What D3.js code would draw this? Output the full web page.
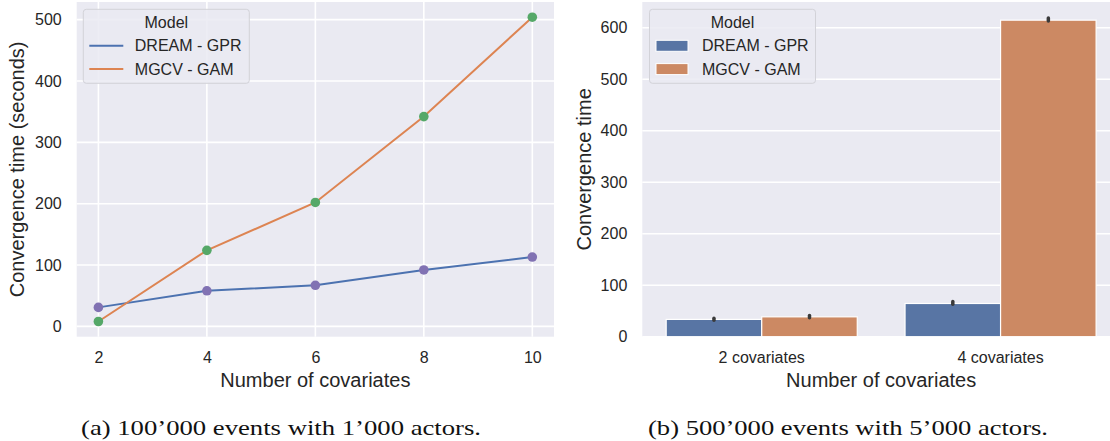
<!DOCTYPE html>
<html>
<head>
<meta charset="utf-8">
<script src="https://cdn.jsdelivr.net/npm/d3@7"></script>
<style>
    body { margin: 0; background: #ffffff; }
    svg { display: block; font-family: "Liberation Sans", Arial, sans-serif; }
    .tick text { fill: #262626; font-size: 16px; }
    .axis-label { fill: #262626; font-size: 20px; }
    .legend text { fill: #262626; font-size: 16px; }
    .caption { fill: #111111; font-family: "Liberation Serif", "DejaVu Serif", serif; font-size: 21px; }
</style>
</head>
<body>
<div id="chart"></div>
<script>
"use strict";

// left panel (a): line chart
var covariates = [2, 4, 6, 8, 10];
var dreamTimes = [31, 58, 67, 92, 113];
var mgcvTimes = [8, 124, 202, 342, 504];

// right panel (b): bar chart
var barCategories = ["2 covariates", "4 covariates"];
var dreamBar = [33.6, 64.5];
var mgcvBar = [38.6, 614.7];
var dreamCiLow = [32, 63];
var dreamCiHigh = [36, 68.5];
var mgcvCiLow = [37, 613];
var mgcvCiHigh = [41, 619];

var models = ["DREAM - GPR", "MGCV - GAM"];
var captions = ["(a) 100\u2019000 events with 1\u2019000 actors.", "(b) 500\u2019000 events with 5\u2019000 actors."];

var WIDTH = 1110, HEIGHT = 441;
var BG = "#eaeaf2";
var LINE_COLORS = ["#4c72b0", "#dd8452"];
var MARKER_COLORS = ["#8172b3", "#55a868"];
var BAR_COLORS = ["#5875a4", "#cc8963"];

var svg = d3.select("#chart").append("svg")
    .attr("width", WIDTH)
    .attr("height", HEIGHT);

var padded = function(lo, hi) {
    var pad = (hi - lo) * 0.05;
    return [lo - pad, hi + pad];
};

var drawPanelBackground = function(box) {
    svg.append("rect")
        .attr("x", box.x0)
        .attr("y", box.y0)
        .attr("width", box.x1 - box.x0)
        .attr("height", box.y1 - box.y0)
        .attr("fill", BG);
};

var cleanAxis = function(axis) {
    axis.attr("font-family", null).attr("font-size", null);
    axis.select(".domain").remove();
};

var drawYAxis = function(box, y, ticks) {
    svg.append("g")
        .selectAll("line")
        .data(ticks)
        .enter().append("line")
        .attr("x1", box.x0)
        .attr("x2", box.x1)
        .attr("y1", function(d) { return y(d); })
        .attr("y2", function(d) { return y(d); })
        .attr("stroke", "#ffffff")
        .attr("stroke-width", 1.6);

    var axis = svg.append("g")
        .attr("transform", "translate(" + box.x0 + ",0)")
        .call(d3.axisLeft(y).tickValues(ticks).tickSize(0).tickPadding(15));
    cleanAxis(axis);
};

var drawXAxis = function(box, x, ticks) {
    var axis = svg.append("g")
        .attr("transform", "translate(0," + box.y1 + ")")
        .call(d3.axisBottom(x).tickValues(ticks).tickSize(0).tickPadding(15));
    cleanAxis(axis);
};

var drawAxisLabels = function(box, yLabel, yLabelX) {
    svg.append("text")
        .attr("class", "axis-label")
        .attr("x", (box.x0 + box.x1) / 2)
        .attr("y", 387)
        .attr("text-anchor", "middle")
        .text("Number of covariates");

    svg.append("text")
        .attr("class", "axis-label")
        .attr("transform", "translate(" + yLabelX + "," + (box.y0 + box.y1) / 2 + ") rotate(-90)")
        .attr("text-anchor", "middle")
        .attr("dy", "0.35em")
        .text(yLabel);
};

var drawLegend = function(left, top, patch) {
    var g = svg.append("g")
        .attr("class", "legend")
        .attr("transform", "translate(" + left + "," + top + ")");

    g.append("rect")
        .attr("width", 166)
        .attr("height", 74)
        .attr("rx", 3)
        .attr("fill", BG)
        .attr("fill-opacity", 0.85)
        .attr("stroke", "#d2d2d8")
        .attr("stroke-width", 1);

    g.append("text")
        .attr("x", 83)
        .attr("y", 13)
        .attr("dy", "0.35em")
        .attr("text-anchor", "middle")
        .text("Model");

    var items = g.selectAll(".item")
        .data(models)
        .enter().append("g")
        .attr("class", "item")
        .attr("transform", function(d, i) {
            return "translate(0," + (36.5 + i * 23.3) + ")";
        });

    if (patch) {
        items.append("rect")
            .attr("x", 6.5)
            .attr("y", -5.5)
            .attr("width", 32)
            .attr("height", 11)
            .attr("fill", function(d, i) { return BAR_COLORS[i]; })
            .attr("stroke", "#ffffff")
            .attr("stroke-width", 1);
    } else {
        items.append("line")
            .attr("x1", 6)
            .attr("x2", 40)
            .attr("stroke", function(d, i) { return LINE_COLORS[i]; })
            .attr("stroke-width", 2);
    }

    items.append("text")
        .attr("x", patch ? 52.5 : 51.5)
        .attr("dy", "0.35em")
        .text(function(d) { return d; });
};

/** Panel (a): convergence time vs number of covariates. */
var drawLinePanel = function() {
    var box = {x0: 76.7, x1: 554, y0: 2, y1: 336.7};
    var all = dreamTimes.concat(mgcvTimes);
    var x = d3.scaleLinear()
        .domain(padded(d3.min(covariates), d3.max(covariates)))
        .range([box.x0, box.x1]);
    var y = d3.scaleLinear()
        .domain(padded(d3.min(all), d3.max(all)))
        .range([box.y1, box.y0]);

    drawPanelBackground(box);

    svg.append("g")
        .selectAll("line")
        .data(covariates)
        .enter().append("line")
        .attr("x1", function(d) { return x(d); })
        .attr("x2", function(d) { return x(d); })
        .attr("y1", box.y0)
        .attr("y2", box.y1)
        .attr("stroke", "#ffffff")
        .attr("stroke-width", 1.6);

    drawYAxis(box, y, [0, 100, 200, 300, 400, 500]);
    drawXAxis(box, x, covariates);

    var series = [dreamTimes, mgcvTimes];
    var line = d3.line()
        .x(function(d, i) { return x(covariates[i]); })
        .y(function(d) { return y(d); });

    series.forEach(function(values, s) {
        svg.append("path")
            .datum(values)
            .attr("d", line)
            .attr("fill", "none")
            .attr("stroke", LINE_COLORS[s])
            .attr("stroke-width", 2);
    });

    series.forEach(function(values, s) {
        svg.append("g")
            .selectAll("circle")
            .data(values)
            .enter().append("circle")
            .attr("cx", function(d, i) { return x(covariates[i]); })
            .attr("cy", function(d) { return y(d); })
            .attr("r", 4.8)
            .attr("fill", MARKER_COLORS[s]);
    });

    drawAxisLabels(box, "Convergence time (seconds)", 17);
    drawLegend(83.3, 9.3, false);
};

/** Panel (b): grouped bars with confidence intervals. */
var drawBarPanel = function() {
    var box = {x0: 642.3, x1: 1120, y0: 2, y1: 336.7};
    var x = d3.scaleBand()
        .domain(barCategories)
        .range([box.x0, box.x1])
        .paddingInner(0.2)
        .paddingOuter(0.1);
    var hue = d3.scaleBand()
        .domain(models)
        .range([0, x.bandwidth()]);
    var y = d3.scaleLinear()
        .domain([0, d3.max(dreamCiHigh.concat(mgcvCiHigh)) * 1.05])
        .range([box.y1, box.y0]);

    drawPanelBackground(box);
    drawYAxis(box, y, [0, 100, 200, 300, 400, 500, 600]);
    drawXAxis(box, x, barCategories);

    var rows = [];
    barCategories.forEach(function(c, i) {
        rows.push({cat: c, model: 0, value: dreamBar[i], lo: dreamCiLow[i], hi: dreamCiHigh[i]});
        rows.push({cat: c, model: 1, value: mgcvBar[i], lo: mgcvCiLow[i], hi: mgcvCiHigh[i]});
    });

    svg.append("g")
        .selectAll("rect")
        .data(rows)
        .enter().append("rect")
        .attr("x", function(d) { return x(d.cat) + hue(models[d.model]); })
        .attr("y", function(d) { return y(d.value); })
        .attr("width", hue.bandwidth())
        .attr("height", function(d) { return y(0) - y(d.value); })
        .attr("fill", function(d) { return BAR_COLORS[d.model]; })
        .attr("stroke", "#ffffff")
        .attr("stroke-width", 1.2);

    svg.append("g")
        .selectAll("line")
        .data(rows)
        .enter().append("line")
        .attr("x1", function(d) { return x(d.cat) + hue(models[d.model]) + hue.bandwidth() / 2; })
        .attr("x2", function(d) { return x(d.cat) + hue(models[d.model]) + hue.bandwidth() / 2; })
        .attr("y1", function(d) { return y(d.lo); })
        .attr("y2", function(d) { return y(d.hi); })
        .attr("stroke", "#3a3a3a")
        .attr("stroke-width", 3.5)
        .attr("stroke-linecap", "round");

    drawAxisLabels(box, "Convergence time", 584);
    drawLegend(649.5, 9.3, true);
};

drawLinePanel();
drawBarPanel();

svg.selectAll(".caption")
    .data(captions)
    .enter().append("text")
    .attr("class", "caption")
    .attr("x", function(d, i) { return i === 0 ? 281 : 848; })
    .attr("y", 435)
    .attr("text-anchor", "middle")
    .attr("textLength", 400)
    .attr("lengthAdjust", "spacingAndGlyphs")
    .text(function(d) { return d; });
</script>
</body>
</html>
